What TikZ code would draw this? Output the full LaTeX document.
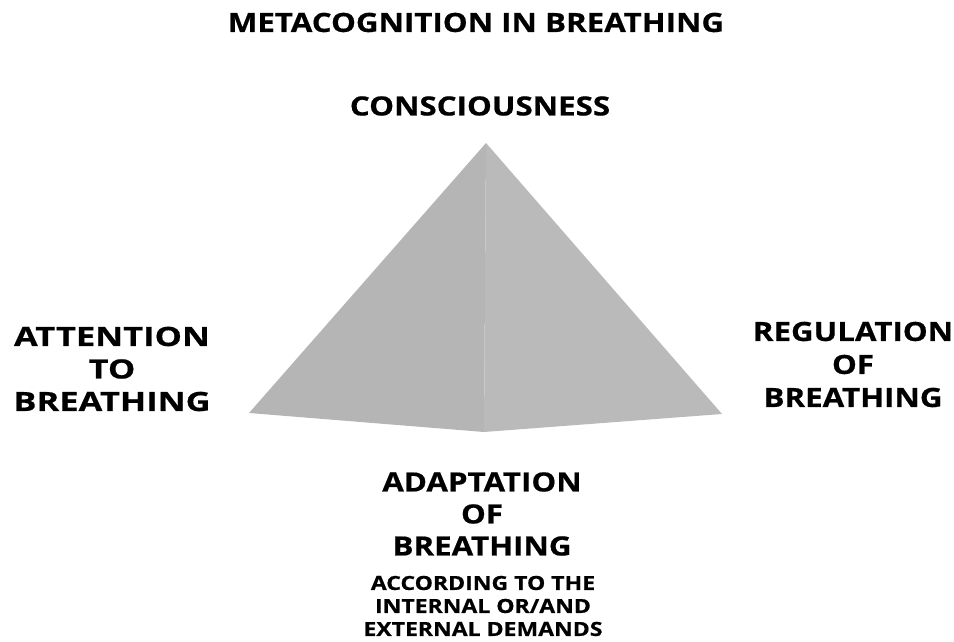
\documentclass[tikz,border=0pt]{standalone}
\usepackage{fontspec}
\setmainfont{Open Sans}
\newfontfamily\widefont[FakeStretch=1.18,FakeBold=0.6]{Open Sans}
\newfontfamily\widerfont[FakeStretch=1.30,FakeBold=0.6]{Open Sans}
\tikzset{
    biglabel/.style={font=\widefont\bfseries\fontsize{26.5}{33}\selectfont, align=center, inner sep=0pt},
    smalllabel/.style={font=\widefont\bfseries\fontsize{19.5}{23}\selectfont, align=center, inner sep=0pt}
}
\begin{document}
\begin{tikzpicture}[x=1pt,y=-1pt]
    \useasboundingbox (0,0) rectangle (954,642);
    %% pyramid corners
    \coordinate (apex) at (486,143);
    \coordinate (leftc) at (249,413);
    \coordinate (rightc) at (722,414);
    \coordinate (front) at (484,432);
    %% faces
    \fill[black!29] (apex) -- (leftc) -- (front) -- cycle;
    \fill[black!27] (apex) -- (front) -- (rightc) -- cycle;
    %% labels
    \node[biglabel] (title) at (476,22.5) {METACOGNITION IN BREATHING};
    \node[biglabel] (top) at (480,106) {CONSCIOUSNESS};
    \node[biglabel, font=\widerfont\bfseries\fontsize{26.5}{32.5}\selectfont] (attention) at (112,369) {ATTENTION\\TO\\BREATHING};
    \node[biglabel] (regulation) at (853,364.5) {REGULATION\\OF\\BREATHING};
    \node[biglabel, font=\widefont\bfseries\fontsize{26.5}{32}\selectfont] (adaptation) at (482,514) {ADAPTATION\\OF\\BREATHING};
    \node[smalllabel] (demands) at (483,606) {ACCORDING TO THE\\INTERNAL OR/AND\\EXTERNAL DEMANDS};
\end{tikzpicture}
\end{document}
